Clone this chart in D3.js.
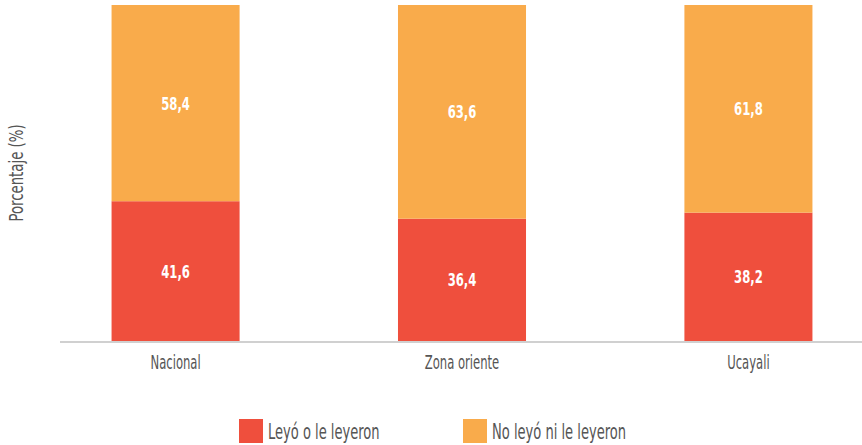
<!DOCTYPE html>
<html><head><meta charset="utf-8">
<script src="https://cdn.jsdelivr.net/npm/d3@7"></script>
<style>
html,body{margin:0;padding:0;background:#fff;}
text{font-family:"DejaVu Sans Condensed","DejaVu Sans",sans-serif;}
</style></head>
<body><svg id="chart" width="862" height="445"></svg>
<script>
const categories = ["Nacional", "Zona oriente", "Ucayali"];
const seriesNames = ["Leyó o le leyeron", "No leyó ni le leyeron"];
const leyo = [41.6, 36.4, 38.2];
const noLeyo = [58.4, 63.6, 61.8];
const colors = ["#EF4F3D", "#F9AB4B"];

const svg = d3.select("#chart");
const x = d3.scaleBand().domain(categories).range([60, 864]).paddingInner(0.553).paddingOuter(0.18);
const y = d3.scaleLinear().domain([0, 100]).range([341, 5]);

const data = categories.map((c, i) => ({cat: c, a: leyo[i], b: noLeyo[i]}));
const stack = d3.stack().keys(["a", "b"])(data);

const fmt = v => d3.format(".1f")(v).replace(".", ",");

stack.forEach((layer, li) => {
  const g = svg.append("g");
  g.selectAll("rect").data(layer).join("rect")
    .attr("x", d => x(d.data.cat))
    .attr("width", x.bandwidth())
    .attr("y", d => y(d[1]))
    .attr("height", d => y(d[0]) - y(d[1]))
    .attr("fill", colors[li]);
  g.selectAll("text").data(layer).join("text")
    .attr("transform", d => `translate(${x(d.data.cat) + x.bandwidth() / 2},${(y(d[0]) + y(d[1])) / 2}) scale(0.72,1)`)
    .attr("dy", "0.36em")
    .attr("text-anchor", "middle")
    .attr("fill", "#fff")
    .attr("font-weight", "bold")
    .attr("font-size", 18)
    .text(d => fmt(d[1] - d[0]));
});

// baseline axis
const ax = svg.append("g").attr("transform", "translate(0,342)")
  .call(d3.axisBottom(x).tickSize(0).tickPadding(14));
ax.select(".domain").attr("stroke", "#d0d0d0").attr("stroke-width", 2).attr("d", "M60,0H862");
ax.selectAll("text").attr("fill", "#555").attr("font-size", 19)
  .attr("transform", "scale(0.68,1)")
  .style("font-family", '"DejaVu Sans Condensed","DejaVu Sans",sans-serif');

// y title
svg.append("text")
  .attr("transform", "translate(23,173) rotate(-90) scale(0.74,1)")
  .attr("text-anchor", "middle")
  .attr("fill", "#555").attr("font-size", 20)
  .text("Porcentaje (%)");

// legend
const legendX = [239, 463];
const lg = svg.append("g").selectAll("g").data(seriesNames).join("g")
  .attr("transform", (d, i) => `translate(${legendX[i]},419)`);
lg.append("rect").attr("width", 24).attr("height", 24).attr("fill", (d, i) => colors[i]);
lg.append("text").attr("transform", "translate(29,12) scale(0.66,1)").attr("dy", "0.36em")
  .attr("fill", "#555").attr("font-size", 22).text(d => d);
</script></body></html>
